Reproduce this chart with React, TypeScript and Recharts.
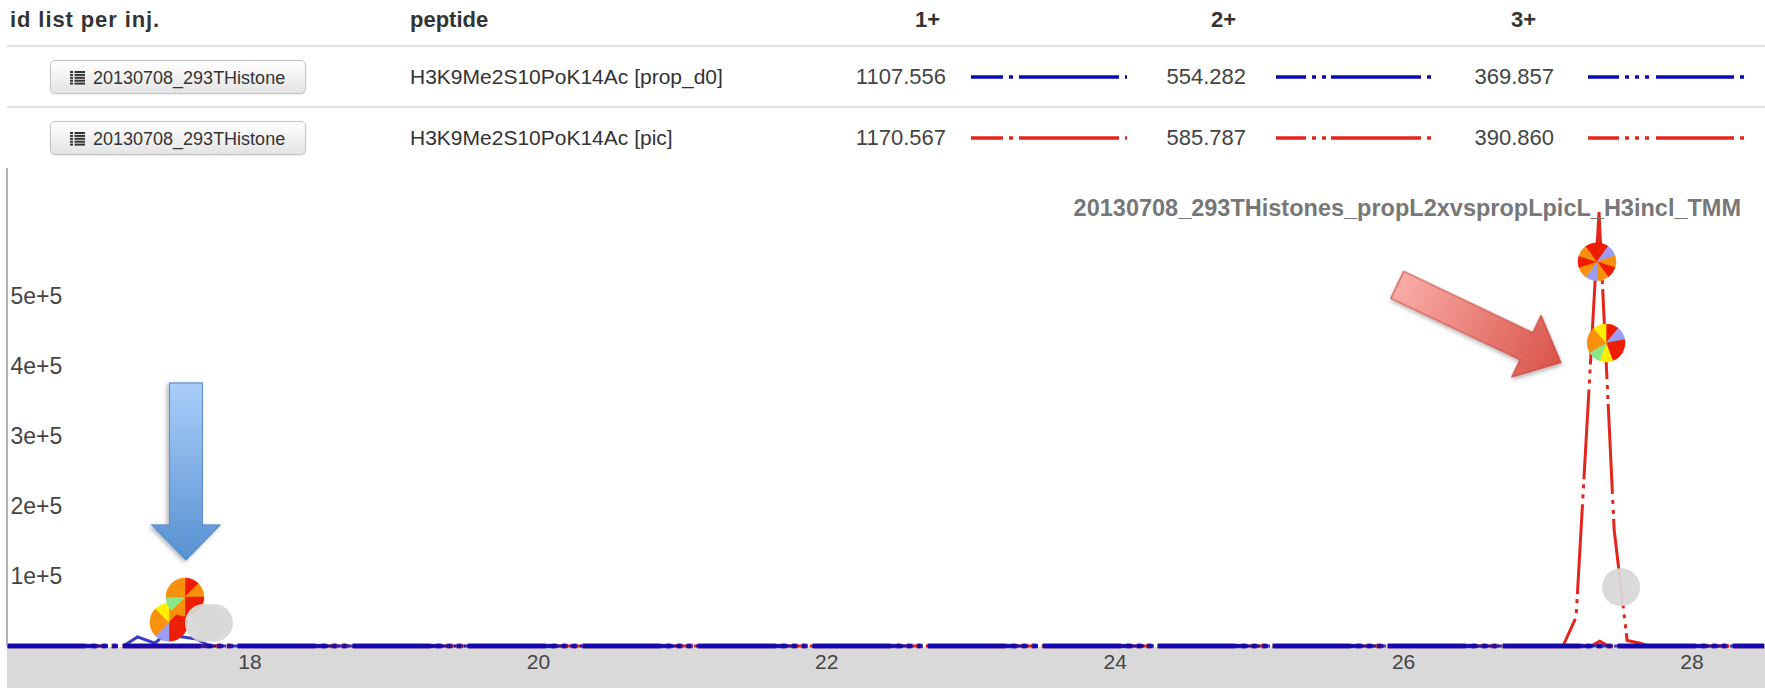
import React from 'react';
import { ComposedChart, Line, Scatter, XAxis, YAxis, ReferenceDot } from 'recharts';

// ---------- table content ----------
const headerLabels = ['id list per inj.', 'peptide', '1+', '2+', '3+'];
const injectionLabels = ['20130708_293THistone', '20130708_293THistone'];
const peptideLabels = ['H3K9Me2S10PoK14Ac [prop_d0]', 'H3K9Me2S10PoK14Ac [pic]'];
const mzCharge1 = ['1107.556', '1170.567'];
const mzCharge2 = ['554.282', '585.787'];
const mzCharge3 = ['369.857', '390.860'];
const chartTitle = '20130708_293THistones_propL2xvspropLpicL_H3incl_TMM';

// ---------- axes ----------
const xTicks = [18, 20, 22, 24, 26, 28];
const yTicks = [100000, 200000, 300000, 400000, 500000];

// ---------- chromatogram traces (retention time, intensity) ----------
const blue1X = [16.32, 17.12, 17.22, 17.34, 17.38, 17.5, 17.63, 17.72, 28.5];
const blue1Y = [0, 0, 13000, 4000, 11000, 14000, 10000, 0, 0];
const blue2X = [16.32, 28.5];
const blue2Y = [0, 0];
const blue3X = [16.32, 28.5];
const blue3Y = [0, 0];
const red1X = [16.32, 27.3, 27.36, 27.42, 28.5];
const red1Y = [0, 0, 7000, 0, 0];
const red2X = [16.32, 27.105, 27.196, 27.355, 27.46, 27.55, 27.64, 27.7, 28.5];
const red2Y = [0, 0, 41000, 620000, 166000, 8000, 4000, 0, 0];
const red3X = [16.32, 28.5];
const red3Y = [0, 0];

// ---------- identification markers ----------
const pieX = [17.438, 17.549, 27.341, 27.404];
const pieY = [34000, 70000, 549000, 433000];
const pieSliceColors = [
  ['#f7900a', '#ee1c00', '#ee1c00', '#ee1c00', '#9c9cf5', '#f7900a', '#f7900a', '#ffee00'],
  ['#ee1c00', '#f7900a', '#ee1c00', '#ee1c00', '#f7900a', '#86e886', '#f7900a', '#f7900a'],
  ['#ee1c00', '#9c9cf5', '#f7900a', '#ee1c00', '#f7900a', '#9c9cf5', '#f7900a', '#ee1c00', '#f7900a', '#ee1c00'],
  ['#ee1c00', '#9c9cf5', '#ee1c00', '#ee1c00', '#ffee00', '#86e886', '#f7900a', '#f7900a', '#ffee00'],
];
const grayX = [17.681, 17.75, 27.508];
const grayY = [33000, 33000, 84000];

// ---------- annotation arrows (tip positions) ----------
const blueArrowTip = { x: 17.556, y: 122900 };
const redArrowTip = { x: 27.09, y: 405000 };

const BLUE = '#0a0ab4';
const RED = '#e3261c';
const DASH1 = '100 6 4 6';
const DASH2 = '90 6 4 6 4 5';
const DASH3 = '78 6 4 6 4 6 4 7';
const FONT = '"Liberation Sans", Arial, Helvetica, sans-serif';

const zip = (xs: number[], ys: number[]) => xs.map((x, i) => ({ x, y: ys[i] }));
const pieData = pieX.map((x, i) => ({ x, y: pieY[i], k: i }));
const grayData = zip(grayX, grayY);

const R = 19;

const PieShape = (props: any) => {
  const { cx, cy, payload } = props;
  const cols = pieSliceColors[payload.k];
  const n = cols.length;
  const paths = cols.map((c: string, i: number) => {
    const a0 = -Math.PI / 2 + (i * 2 * Math.PI) / n;
    const a1 = -Math.PI / 2 + ((i + 1) * 2 * Math.PI) / n;
    const x0 = cx + R * Math.cos(a0);
    const y0 = cy + R * Math.sin(a0);
    const x1 = cx + R * Math.cos(a1);
    const y1 = cy + R * Math.sin(a1);
    return <path key={i} d={`M${cx},${cy} L${x0},${y0} A${R},${R} 0 0 1 ${x1},${y1} Z`} fill={c} stroke={c} strokeWidth={0.5} />;
  });
  return <g>{paths}</g>;
};

const GrayShape = (props: any) => {
  const { cx, cy } = props;
  return <circle cx={cx} cy={cy} r={R} fill="#d8d8d8" fillOpacity={0.95} />;
};

const arrowPoints = (L: number, S: number, W: number, H: number) =>
  [
    [0, 0],
    [-H, -W / 2],
    [-H, -S / 2],
    [-L, -S / 2],
    [-L, S / 2],
    [-H, S / 2],
    [-H, W / 2],
  ]
    .map((p) => p.join(','))
    .join(' ');

const makeArrow = (id: string, angle: number, L: number, S: number, W: number, H: number, c0: string, c1: string, stroke: string) =>
  (props: any) => {
    const { cx, cy } = props;
    return (
      <g transform={`translate(${cx},${cy}) rotate(${angle})`}>
        <defs>
          <linearGradient id={id} gradientUnits="userSpaceOnUse" x1={-L} y1={0} x2={0} y2={0}>
            <stop offset="0" stopColor={c0} />
            <stop offset="1" stopColor={c1} />
          </linearGradient>
          <filter id={id + 'sh'} x="-30%" y="-30%" width="160%" height="160%">
            <feDropShadow dx="1.5" dy="2" stdDeviation="2" floodColor="#000" floodOpacity="0.3" />
          </filter>
        </defs>
        <polygon points={arrowPoints(L, S, W, H)} fill={`url(#${id})`} stroke={stroke} strokeWidth={1.2} filter={`url(#${id}sh)`} />
      </g>
    );
  };

const BlueArrow = makeArrow('blueArrowGrad', 90, 177, 33, 68, 35, '#aacdf8', '#5791d3', '#5a8ccb');
const RedArrow = makeArrow('redArrowGrad', 25.4, 181, 30, 68, 38, '#f9aca6', '#d9544b', '#c8463e');

const YTick = (props: any) => {
  const { x, y, payload } = props;
  return (
    <text x={x + 11.5} y={y} dy="0.36em" fontSize={23} fill="#444" fontFamily={FONT} textAnchor="start">
      {`${payload.value / 100000}e+5`}
    </text>
  );
};

const ListIcon = () => (
  <svg width={15} height={14} style={{ position: 'absolute', left: 19, top: 10 }}>
    {[0, 1, 2, 3, 4].map((i) => (
      <g key={i}>
        <rect x={0} y={i * 2.9} width={3} height={2} fill="#333" />
        <rect x={4.5} y={i * 2.9} width={10.5} height={2} fill="#333" />
      </g>
    ))}
  </svg>
);

const Sample = ({ left, top, color, dash, offset }: any) => (
  <svg width={156} height={8} style={{ position: 'absolute', left, top: top - 4 }}>
    <line x1={0} y1={4} x2={156} y2={4} stroke={color} strokeWidth={3.5} strokeDasharray={dash} strokeDashoffset={offset} />
  </svg>
);

const txt = (s: string, style: React.CSSProperties) => (
  <div style={{ position: 'absolute', whiteSpace: 'nowrap', fontFamily: FONT, lineHeight: '26px', ...style }}>{s}</div>
);

export default function App() {
  const rowsY = [77, 138];
  const rowColors = [BLUE, RED];
  return (
    <div style={{ position: 'absolute', left: 0, top: 0, width: 1765, height: 688, background: '#fff', overflow: 'hidden' }}>
      {/* header */}
      {txt(headerLabels[0], { left: 10, top: 20 - 13, fontSize: 22, letterSpacing: 0.9, fontWeight: 'bold', color: '#333' })}
      {txt(headerLabels[1], { left: 410, top: 20 - 13, fontSize: 22, fontWeight: 'bold', color: '#333' })}
      {txt(headerLabels[2], { right: 1765 - 940, top: 20 - 13, fontSize: 22, fontWeight: 'bold', color: '#333' })}
      {txt(headerLabels[3], { right: 1765 - 1236, top: 20 - 13, fontSize: 22, fontWeight: 'bold', color: '#333' })}
      {txt(headerLabels[4], { right: 1765 - 1536, top: 20 - 13, fontSize: 22, fontWeight: 'bold', color: '#333' })}
      <div style={{ position: 'absolute', left: 7, top: 45, width: 1758, height: 2, background: '#e2e2e2' }} />
      <div style={{ position: 'absolute', left: 7, top: 106, width: 1758, height: 2, background: '#e2e2e2' }} />
      {rowsY.map((cy, r) => (
        <React.Fragment key={r}>
          <div
            style={{
              position: 'absolute',
              left: 50,
              top: cy - 17,
              width: 256,
              height: 34,
              boxSizing: 'border-box',
              border: '1px solid #c4c4c4',
              borderRadius: 5,
              background: 'linear-gradient(#ffffff, #e4e4e4)',
              boxShadow: '0 1px 2px rgba(0,0,0,0.08)',
            }}
          >
            <ListIcon />
            {txt(injectionLabels[r], { left: 42, top: 4, fontSize: 18, color: '#333' })}
          </div>
          {txt(peptideLabels[r], { left: 410, top: cy - 13, fontSize: 21, color: '#333' })}
          {txt(mzCharge1[r], { right: 1765 - 946, top: cy - 13, fontSize: 22, color: '#444' })}
          {txt(mzCharge2[r], { right: 1765 - 1246, top: cy - 13, fontSize: 22, color: '#444' })}
          {txt(mzCharge3[r], { right: 1765 - 1554, top: cy - 13, fontSize: 22, color: '#444' })}
          <Sample left={971} top={cy} color={rowColors[r]} dash={DASH1} offset={68} />
          <Sample left={1276} top={cy} color={rowColors[r]} dash={DASH2} offset={60} />
          <Sample left={1588} top={cy} color={rowColors[r]} dash={DASH3} offset={47} />
        </React.Fragment>
      ))}

      {/* x axis band */}
      <div style={{ position: 'absolute', left: 7, top: 647, width: 1758, height: 41, background: '#d9d9d9' }} />

      <div style={{ position: 'absolute', left: 0, top: 168 }}>
        <ComposedChart width={1765} height={520} margin={{ top: 0, right: 0, bottom: 0, left: 0 }}>
          <XAxis
            type="number"
            dataKey="x"
            domain={[16.315, 28.506]}
            ticks={xTicks}
            axisLine={false}
            tickLine={false}
            height={42}
            tick={{ fontSize: 21, fill: '#444', fontFamily: FONT }}
          />
          <YAxis
            type="number"
            dataKey="y"
            domain={[0, 682857]}
            ticks={yTicks}
            width={7}
            axisLine={{ stroke: '#999', strokeWidth: 1.5 }}
            tickLine={false}
            tick={<YTick />}
          />
          <Line data={zip(red3X, red3Y)} dataKey="y" stroke={RED} strokeWidth={4.5} strokeDasharray={DASH3} dot={false} activeDot={false} isAnimationActive={false} />
          <Line data={zip(red1X, red1Y)} dataKey="y" stroke={RED} strokeWidth={3} strokeDasharray={DASH1} dot={false} activeDot={false} isAnimationActive={false} />
          <Line data={zip(red2X, red2Y)} dataKey="y" stroke={RED} strokeWidth={3} strokeDasharray={DASH2} dot={false} activeDot={false} isAnimationActive={false} />
          <Line data={zip(blue3X, blue3Y)} dataKey="y" stroke={BLUE} strokeOpacity={0.72} strokeWidth={4.5} strokeDasharray={DASH3} dot={false} activeDot={false} isAnimationActive={false} />
          <Line data={zip(blue2X, blue2Y)} dataKey="y" stroke={BLUE} strokeOpacity={0.72} strokeWidth={4.5} strokeDasharray={DASH2} dot={false} activeDot={false} isAnimationActive={false} />
          <Line data={zip(blue1X, blue1Y)} dataKey="y" stroke={BLUE} strokeOpacity={0.8} strokeWidth={3} strokeDasharray={DASH1} dot={false} activeDot={false} isAnimationActive={false} />
          <Scatter data={pieData} dataKey="y" shape={<PieShape />} isAnimationActive={false} />
          <Scatter data={grayData} dataKey="y" shape={<GrayShape />} isAnimationActive={false} />
          <ReferenceDot x={blueArrowTip.x} y={blueArrowTip.y} r={1} shape={<BlueArrow />} />
          <ReferenceDot x={redArrowTip.x} y={redArrowTip.y} r={1} shape={<RedArrow />} />
        </ComposedChart>
      </div>

      {txt(chartTitle, { right: 1765 - 1741, top: 208 - 13, fontSize: 23.5, fontWeight: 'bold', color: '#777' })}
    </div>
  );
}
